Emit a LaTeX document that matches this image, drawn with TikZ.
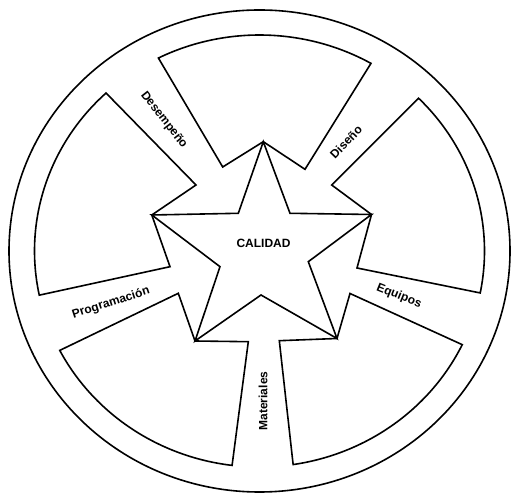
\documentclass[tikz,border=0pt]{standalone}
\usepackage{fontspec}
\setmainfont{Liberation Sans}
\usetikzlibrary{calc}
\begin{document}
\begin{tikzpicture}[x=1bp,y=1bp,
  lw/.style={line width=1.6bp, line join=miter},
  lbl/.style={font=\fontsize{12bp}{14bp}\bfseries\selectfont, inner sep=0pt}]
\useasboundingbox (0,0) rectangle (511,494);
\coordinate (C) at (259.5,243);
% outer ring
\draw[lw] (C) ellipse [x radius=250.5, y radius=241];
% star vertices
\coordinate (T) at (263.3,352.3);
\coordinate (I1) at (290,280.7);
\coordinate (R) at (371.5,279.5);
\coordinate (I2) at (308.3,232.3);
\coordinate (LR) at (337,155.5);
\coordinate (I3) at (261,199);
\coordinate (LL) at (195,153);
\coordinate (I4) at (220,227.3);
\coordinate (L) at (151.8,279);
\coordinate (I5) at (238.3,280.7);
% notch points
\coordinate (N1a) at (222.7,327);
\coordinate (N1b) at (305,324.7);
\coordinate (N2a) at (331.7,309);
\coordinate (N2b) at (357,226);
\coordinate (N3a) at (350,200.5);
\coordinate (N3b) at (279.3,153.3);
\coordinate (N4a) at (178.3,200.7);
\coordinate (N4b) at (248.3,152.3);
\coordinate (N5a) at (170,227.3);
\coordinate (N5b) at (196,309);
% corners on inner arc
\coordinate (A1) at ([shift={(116.7:225 and 216)}]C);
\coordinate (B1) at ([shift={(60.3:225 and 216)}]C);
\coordinate (A2) at ([shift={(45:225 and 216)}]C);
\coordinate (B2) at ([shift={(-11.2:225 and 216)}]C);
\coordinate (A3) at ([shift={(-25.7:225 and 216)}]C);
\coordinate (B3) at ([shift={(-81.4:225 and 216)}]C);
\coordinate (A4) at ([shift={(-97:225 and 216)}]C);
\coordinate (B4) at ([shift={(-152.6:225 and 216)}]C);
\coordinate (A5) at ([shift={(191.8:225 and 216)}]C);
\coordinate (B5) at ([shift={(133:225 and 216)}]C);
% sectors
\draw[lw] (A1) -- (N1a) -- (T) -- (N1b) -- (B1)
  arc[start angle=60.3, end angle=116.7, x radius=225, y radius=216] -- cycle;
\draw[lw] (A2) -- (N2a) -- (R) -- (N2b) -- (B2)
  arc[start angle=-11.2, end angle=45, x radius=225, y radius=216] -- cycle;
\draw[lw] (A3) -- (N3a) -- (LR) -- (N3b) -- (B3)
  arc[start angle=-81.4, end angle=-25.7, x radius=225, y radius=216] -- cycle;
\draw[lw] (A4) -- (N4b) -- (LL) -- (N4a) -- (B4)
  arc[start angle=-152.6, end angle=-97, x radius=225, y radius=216] -- cycle;
\draw[lw] (A5) -- (N5a) -- (L) -- (N5b) -- (B5)
  arc[start angle=133, end angle=191.8, x radius=225, y radius=216] -- cycle;
% star
\draw[lw] (T) -- (I1) -- (R) -- (I2) -- (LR) -- (I3) -- (LL) -- (I4) -- (L) -- (I5) -- cycle;
% labels
\node[lbl] (cal) at (263.5,251) {CALIDAD};
\node[lbl, rotate=-52] (des) at (164,374) {Desempeño};
\node[lbl, rotate=46] (dis) at (346,352) {Diseño};
\node[lbl, rotate=-22] (equ) at (399,198) {Equipos};
\node[lbl, rotate=90] (mat) at (263,93) {Materiales};
\node[lbl, rotate=18] (pro) at (111,191) {Programación};
\end{tikzpicture}
\end{document}
